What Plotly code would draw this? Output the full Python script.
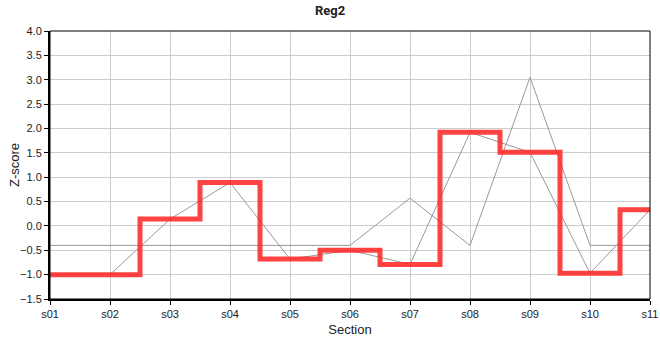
import plotly.graph_objects as go

sections = ["s01", "s02", "s03", "s04", "s05", "s06", "s07", "s08", "s09", "s10", "s11"]
reg2 = [-1.0, -1.0, 0.14, 0.89, -0.68, -0.5, -0.79, 1.92, 1.51, -0.97, 0.33]
reg_other = [-0.4, -0.4, -0.4, -0.4, -0.4, -0.4, 0.57, -0.4, 3.05, -0.4, -0.4]

fig = go.Figure()
fig.add_trace(go.Scatter(x=sections, y=reg_other, mode="lines",
                         line=dict(color="#999999", width=1), showlegend=False))
fig.add_trace(go.Scatter(x=sections, y=reg2, mode="lines",
                         line=dict(color="#999999", width=1), showlegend=False))
fig.add_trace(go.Scatter(x=sections, y=reg2, mode="lines",
                         line=dict(color="rgba(255,40,40,0.88)", width=5, shape="hvh"),
                         showlegend=False))

fig.update_layout(
    width=660, height=360,
    margin=dict(l=50, r=10, t=31, b=61),
    paper_bgcolor="white", plot_bgcolor="white",
    font=dict(family="Liberation Sans, Arial, sans-serif", size=11, color="#222"),
    title=dict(text="<b>Reg2</b>", x=0.5, xanchor="center", y=0.985, yanchor="top",
               font=dict(size=13, family="Roboto, Arial, sans-serif", color="#222")),
)
fig.update_xaxes(
    type="category", range=[0, 10], showgrid=True, gridcolor="#cccccc", gridwidth=1,
    showline=True, linecolor="black", linewidth=2, ticks="outside", ticklen=4,
    tickcolor="black", tickwidth=1, automargin=False,
    title=dict(text="Section", font=dict(size=13), standoff=6),
)
fig.update_yaxes(
    range=[-1.5, 4.0], dtick=0.5, tick0=-1.5, tickformat=".1f", showgrid=True,
    gridcolor="#cccccc", gridwidth=1, zeroline=False, automargin=False,
    showline=True, linecolor="black", linewidth=2, ticks="outside", ticklen=4,
    tickcolor="black", tickwidth=1,
)
fig.add_annotation(text="Z-score", xref="paper", yref="paper", x=0, y=0.5,
                   xanchor="center", yanchor="middle", xshift=-36, textangle=-90,
                   showarrow=False, font=dict(size=13))
fig.add_shape(type="rect", xref="paper", yref="paper", x0=0, x1=1, y0=0, y1=1,
              line=dict(color="black", width=1), layer="above")

fig.write_html("out.html")
